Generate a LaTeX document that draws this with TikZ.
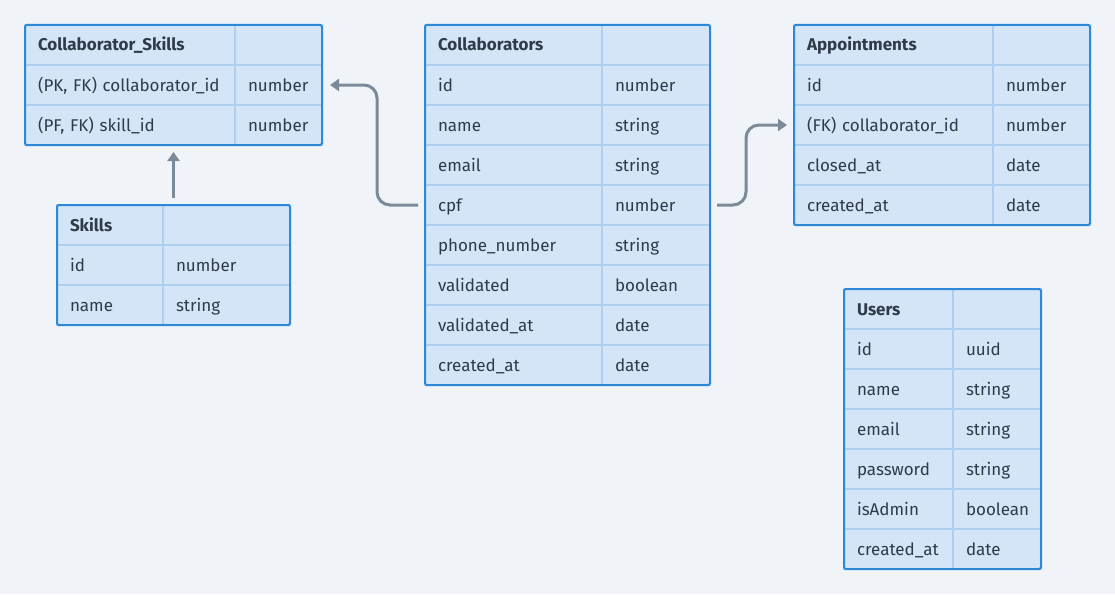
\documentclass[tikz,border=0pt]{standalone}
\usepackage{fontspec}
\setmainfont{Fira Sans}
\usepackage{tikz}
\usetikzlibrary{
  calc
  , positioning
  % for tips
  , arrows.meta
}
\definecolor{PageBg}{HTML}{F0F4F8}
\definecolor{CellFill}{HTML}{D3E5F6}
\definecolor{CellLine}{HTML}{AED0F0}
\definecolor{TblBorder}{HTML}{2E88D8}
\definecolor{LinkGray}{HTML}{7B8A99}
\definecolor{InkGray}{HTML}{2F3B49}

\tikzset{
  cell/.style={
    draw=CellLine,
    fill=CellFill,
    line width=1.5pt,
    minimum height=40pt,
    inner xsep=13pt,
    outer sep=0pt,
    anchor=north west,
    align=left,
    text=InkGray,
    text height=14pt,
    text depth=2pt,
    font=\fontsize{17pt}{20pt}\selectfont,
  },
  tblborder/.style={draw=TblBorder, line width=2pt, rounded corners=1.5pt},
  link/.style={draw=LinkGray, line width=3pt, rounded corners=13pt,
    -{Triangle[length=9pt,width=12pt]}},
}

% #1 name, #2 x, #3 y, #4 key width, #5 type width, #6 title, #7 rows
\newcommand{\ertable}[7]{%
  \node[cell, text width=#4pt-26pt] (#1-0) at (#2,#3) {\textbf{#6}};
  \node[cell, text width=#5pt-26pt] (#1-0t) at (#2+#4,#3) {};
  \foreach \fld/\typ [count=\i] in {#7} {
    \pgfmathsetmacro\rowy{#3+40*\i}
    \node[cell, text width=#4pt-26pt] (#1-\i) at (#2,\rowy) {\mbox{\fld}};
    \node[cell, text width=#5pt-26pt] (#1-\i t) at (#2+#4,\rowy) {\mbox{\typ}};
    \xdef\lastrow{\i}
  }
  \draw[tblborder] (#1-0.north west) rectangle (#1-\lastrow t.south east);
  \coordinate (#1-top) at ($(#1-0.north west)!.5!(#1-0t.north east)$);
  \coordinate (#1-bot) at ($(#1-\lastrow.south west)!.5!(#1-\lastrow t.south east)$);
}

\begin{document}
\begin{tikzpicture}[x=1pt, y=-1pt]
  \fill[PageBg] (0,0) rectangle (1115,594);
  \useasboundingbox (0,0) rectangle (1115,594);

  \ertable{CS}{25}{25}{210}{87}{Collaborator\_Skills}{
    {(PK, FK) collaborator\_id}/number,
    {(PF, FK) skill\_id}/number}

  \ertable{Sk}{57}{205}{106}{127}{Skills}{
    id/number,
    name/string}

  \ertable{Clb}{425}{25}{177}{108}{Collaborators}{
    id/number,
    name/string,
    email/string,
    cpf/number,
    phone\_number/string,
    validated/boolean,
    validated\_at/date,
    created\_at/date}

  \ertable{Ap}{794}{25}{199}{97}{Appointments}{
    id/number,
    (FK) collaborator\_id/number,
    closed\_at/date,
    created\_at/date}

  \ertable{Us}{844}{289}{109}{88}{Users}{
    id/uuid,
    name/string,
    email/string,
    password/string,
    isAdmin/boolean,
    created\_at/date}

  % links
  \draw[link] ([yshift=7pt]Sk-top) -- ([yshift=-7pt]CS-bot);
  \draw[link] ([xshift=-7pt]Clb-4.west) -- ++(-41,0) |- ([xshift=8pt]CS-1t.east);
  \draw[link] ([xshift=7pt]Clb-4t.east) -- ++(29,0) |- ([xshift=-7pt]Ap-2.west);
\end{tikzpicture}
\end{document}
